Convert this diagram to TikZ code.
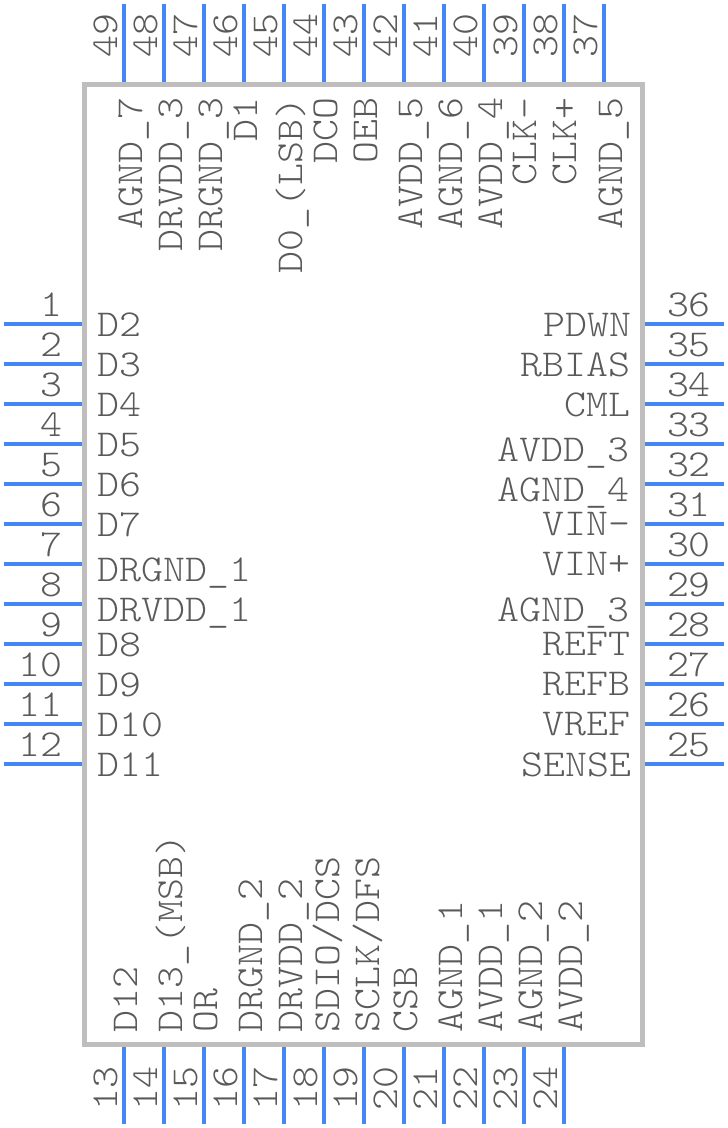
\documentclass[tikz,border=0pt]{standalone}
\usepackage{fontspec}
\setmainfont[FakeStretch=1.1]{Latin Modern Mono Light}
\definecolor{pinblue}{HTML}{4287F5}
\definecolor{boxgray}{HTML}{BEBEBE}
\definecolor{txtgray}{HTML}{5A5A5A}
\tikzset{
  pinline/.style={draw=pinblue,line width=4.5pt},
  chipbox/.style={draw=boxgray,line width=5pt},
  pintext/.style={inner sep=0pt,outer sep=0pt,text=txtgray,font=\fontsize{38}{38}\selectfont},
}
\begin{document}
\begin{tikzpicture}[x=1pt,y=-1pt]
\useasboundingbox (0,0) rectangle (728,1128);
% pins
\foreach \n/\y in {1/324,2/364,3/404,4/444,5/484,6/524,7/564,8/604,9/644,10/684,11/724,12/764}{
  \coordinate (p\n a) at (4,\y); \coordinate (p\n b) at (84,\y);
  \draw[pinline] (p\n a) -- (p\n b);
  \node[pintext,anchor=base east] (num\n) at (62,\y-8) {\n};
}
\foreach \n/\y in {36/324,35/364,34/404,33/444,32/484,31/524,30/564,29/604,28/644,27/684,26/724,25/764}{
  \coordinate (p\n a) at (724,\y); \coordinate (p\n b) at (644,\y);
  \draw[pinline] (p\n a) -- (p\n b);
  \node[pintext,anchor=base west] (num\n) at (667,\y-8) {\n};
}
\foreach \n/\x in {49/124,48/164,47/204,46/244,45/284,44/324,43/364,42/404,41/444,40/484,39/524,38/564,37/604}{
  \coordinate (p\n a) at (\x,4); \coordinate (p\n b) at (\x,84);
  \draw[pinline] (p\n a) -- (p\n b);
  \node[pintext,rotate=90,anchor=base west] (num\n) at (\x-7,57) {\n};
}
\foreach \n/\x in {13/124,14/164,15/204,16/244,17/284,18/324,19/364,20/404,21/444,22/484,23/524,24/564}{
  \coordinate (p\n a) at (\x,1124); \coordinate (p\n b) at (\x,1044);
  \draw[pinline] (p\n a) -- (p\n b);
  \node[pintext,rotate=90,anchor=base west] (num\n) at (\x-7,1110) {\n};
}
% body
\draw[chipbox,fill=none] (84,84) rectangle (642,1044);
% left labels
\foreach \t/\y [count=\i] in {D2/336,D3/376,D4/416,D5/456,D6/496,D7/536,DRGND\_1/581,DRVDD\_1/621,D8/656,D9/696,D10/736,D11/776}{
  \node[pintext,anchor=base west] (lt\i) at (97.5,\y) {\t};
}
% right labels
\foreach \t/\y/\x [count=\i] in {PDWN/336/631,RBIAS/376/630,CML/416/630.5,AVDD\_3/461/629.5,AGND\_4/501/629.5,VIN-/535/630,VIN+/575/630,AGND\_3/621/629.5,REFT/655/630,REFB/695/630,VREF/735/630,SENSE/776/631}{
  \node[pintext,anchor=base east] (rt\i) at (\x,\y) {\t};
}
% top labels
\foreach \t/\x [count=\i] in {AGND\_7/142,DRVDD\_3/182,DRGND\_3/222,D1/257,{D0\_(LSB)}/302,DCO/337,OEB/377,AVDD\_5/422,AGND\_6/462,AVDD\_4/502,CLK-/536,CLK+/576,AGND\_5/622}{
  \node[pintext,rotate=90,anchor=base east] (tp\i) at (\x,98) {\t};
}
% bottom labels
\foreach \t/\x [count=\i] in {D12/137,{D13\_(MSB)}/182,OR/217,DRGND\_2/262,DRVDD\_2/302,{SDIO/DCS}/339,{SCLK/DFS}/379,CSB/417,AGND\_1/462,AVDD\_1/502,AGND\_2/542,AVDD\_2/582}{
  \node[pintext,rotate=90,anchor=base west] (bt\i) at (\x,1032) {\t};
}
\end{tikzpicture}
\end{document}
